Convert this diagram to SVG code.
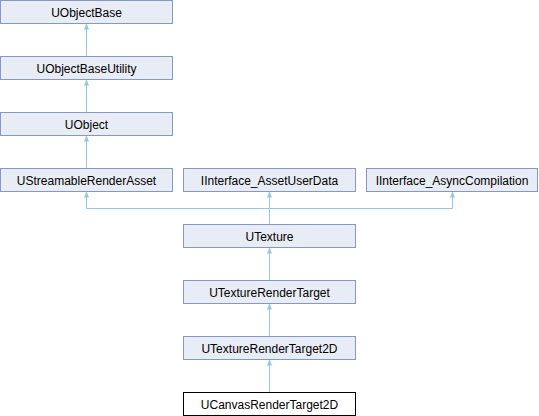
<svg xmlns="http://www.w3.org/2000/svg" width="539" height="416" viewBox="0 0 539 416">
<style>
.n rect{fill:#E8ECF5;stroke:#8497C7;stroke-width:1}
.n.w rect{fill:#FFFFFF;stroke:#000000}
.n text{font-family:"Liberation Sans",Arial,sans-serif;font-size:12px;fill:#000;text-anchor:middle}
#edges path{fill:none;stroke:#8FC8E8;stroke-width:1}
</style>
<defs>
<marker id="ah" viewBox="0 0 6 5" refX="6" refY="2.5" markerWidth="6" markerHeight="5" markerUnits="userSpaceOnUse" orient="auto">
<path d="M0,0 L6,2.5 L0,5 z" fill="#8FC8E8"/>
</marker>
</defs>
<rect width="539" height="416" fill="#FFFFFF"/>
<g id="edges">
<path d="M86.5,56.5 V23.5" marker-end="url(#ah)"/>
<path d="M86.5,112.5 V79.5" marker-end="url(#ah)"/>
<path d="M86.5,168.5 V135.5" marker-end="url(#ah)"/>
<path d="M269.5,224.5 V208.5 H86.5 V191.5" marker-end="url(#ah)"/>
<path d="M269.5,208.5 V191.5" marker-end="url(#ah)"/>
<path d="M269.5,208.5 H452.5 V191.5" marker-end="url(#ah)"/>
<path d="M269.5,280.5 V247.5" marker-end="url(#ah)"/>
<path d="M269.5,336.5 V303.5" marker-end="url(#ah)"/>
<path d="M269.5,392.5 V359.5" marker-end="url(#ah)"/>
</g>
<g id="UObjectBase" class="n"><rect x="0.5" y="0.5" width="172" height="23"/><text x="86.5" y="16.5">UObjectBase</text></g>
<g id="UObjectBaseUtility" class="n"><rect x="0.5" y="56.5" width="172" height="23"/><text x="86.5" y="72.5">UObjectBaseUtility</text></g>
<g id="UObject" class="n"><rect x="0.5" y="112.5" width="172" height="23"/><text x="86.5" y="128.5">UObject</text></g>
<g id="UStreamableRenderAsset" class="n"><rect x="0.5" y="168.5" width="172" height="23"/><text x="86.5" y="184.5">UStreamableRenderAsset</text></g>
<g id="IInterface_AssetUserData" class="n"><rect x="183.5" y="168.5" width="172" height="23"/><text x="269.5" y="184.5">IInterface_AssetUserData</text></g>
<g id="IInterface_AsyncCompilation" class="n"><rect x="366.5" y="168.5" width="171" height="23"/><text x="452" y="184.5">IInterface_AsyncCompilation</text></g>
<g id="UTexture" class="n"><rect x="183.5" y="224.5" width="172" height="23"/><text x="269.5" y="240.5">UTexture</text></g>
<g id="UTextureRenderTarget" class="n"><rect x="183.5" y="280.5" width="172" height="23"/><text x="269.5" y="296.5">UTextureRenderTarget</text></g>
<g id="UTextureRenderTarget2D" class="n"><rect x="183.5" y="336.5" width="172" height="23"/><text x="269.5" y="352.5">UTextureRenderTarget2D</text></g>
<g id="UCanvasRenderTarget2D" class="n w"><rect x="183.5" y="392.5" width="172" height="23"/><text x="269.5" y="408.5">UCanvasRenderTarget2D</text></g>
</svg>
